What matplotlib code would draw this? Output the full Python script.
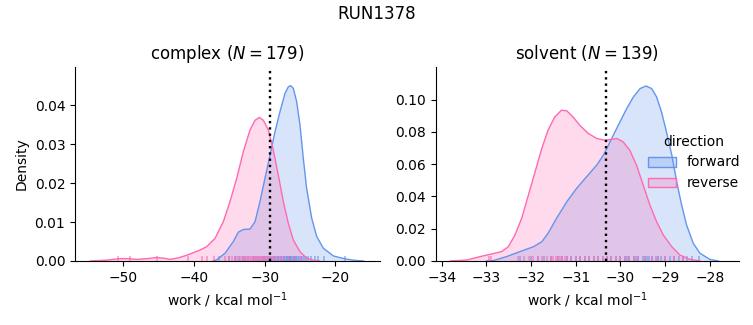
import numpy as np
import matplotlib
matplotlib.use("Agg")
import matplotlib.pyplot as plt
from matplotlib.patches import Patch
from matplotlib.colors import to_rgba

run_name = "RUN1378"
phases = ["complex", "solvent"]
n_samples = [179, 139]
directions = ["forward", "reverse"]
colors = {"forward": "#6495ED", "reverse": "#FF69B4"}

# density curves (work in kcal/mol, density)
complex_fwd_x = [-37.3, -36.78, -35.61, -34.43, -33.73, -33.02, -32.07, -31.36, -30.66,
                 -29.95, -29.24, -28.54, -27.83, -27.12, -26.65, -26.32, -25.94, -25.47,
                 -25.0, -24.53, -24.06, -23.34, -22.63, -21.70, -20.28, -19.0, -17.5,
                 -16.0]
complex_fwd_y = [0.0, 0.0003, 0.0020, 0.0050, 0.0074, 0.0081, 0.0082, 0.0101, 0.0153,
                 0.0213, 0.0272, 0.0332, 0.0384, 0.0431, 0.0448, 0.0451, 0.0444, 0.0410,
                 0.0350, 0.0264, 0.0187, 0.0110, 0.0063, 0.0033, 0.0013, 0.0007, 0.0002,
                 0.0]
complex_rev_x = [-54.7, -52.5, -50.47, -49.2, -48.1, -46.6, -45.27, -44.2, -43.4, -42.2,
                 -41.0, -39.15, -38.2, -37.03, -35.85, -34.90, -33.95, -33.02, -32.07,
                 -31.36, -30.75, -30.19, -29.48, -28.77, -28.07, -27.36, -26.65, -25.94,
                 -25.0, -24.06, -22.87, -22.2]
complex_rev_y = [0.0, 0.0002, 0.0006, 0.0006, 0.0004, 0.0006, 0.0009, 0.0007, 0.0004,
                 0.0008, 0.0015, 0.0028, 0.0037, 0.0058, 0.0101, 0.0153, 0.0213, 0.0281,
                 0.0337, 0.0362, 0.0369, 0.0362, 0.0337, 0.0285, 0.0221, 0.0153, 0.0097,
                 0.0054, 0.0024, 0.0007, 0.0001, 0.0]
solvent_fwd_x = [-33.0, -32.85, -32.55, -32.25, -31.95, -31.76, -31.62, -31.43, -31.20,
                 -30.98, -30.76, -30.53, -30.38, -30.27, -30.16, -30.01, -29.86, -29.71,
                 -29.56, -29.43, -29.30, -29.19, -29.08, -28.97, -28.85, -28.74, -28.63,
                 -28.52, -28.37, -28.22, -28.0, -27.81]
solvent_fwd_y = [0.0, 0.0002, 0.0027, 0.0058, 0.0088, 0.0119, 0.0171, 0.0264, 0.0367,
                 0.0450, 0.0521, 0.0594, 0.0656, 0.0717, 0.0779, 0.0862, 0.0944, 0.1016,
                 0.1068, 0.1084, 0.1068, 0.1016, 0.0923, 0.0800, 0.0656, 0.0490, 0.0346,
                 0.0223, 0.0109, 0.0048, 0.0010, 0.0]
solvent_rev_x = [-33.81, -33.44, -33.14, -32.92, -32.66, -32.51, -32.36, -32.21, -32.06,
                 -31.91, -31.76, -31.62, -31.47, -31.32, -31.20, -31.06, -30.91, -30.72,
                 -30.53, -30.35, -30.20, -30.08, -29.94, -29.79, -29.64, -29.49, -29.34,
                 -29.19, -29.04, -28.85, -28.67, -28.45, -28.22]
solvent_rev_y = [0.0, 0.0006, 0.0027, 0.0041, 0.0058, 0.0088, 0.0161, 0.0264, 0.0408,
                 0.0552, 0.0697, 0.0810, 0.0892, 0.0934, 0.0930, 0.0892, 0.0841, 0.0790,
                 0.0759, 0.0748, 0.0753, 0.0759, 0.0738, 0.0686, 0.0594, 0.0470, 0.0346,
                 0.0243, 0.0161, 0.0088, 0.0037, 0.0010, 0.0]

# individual work values shown as rug ticks
complex_fwd_rug = [-36.4, -35.1, -34.2, -33.6, -33.1, -32.8, -32.3, -31.7, -31.2, -30.8,
                   -30.4, -30.1, -29.8, -29.5, -29.2, -29.0, -28.7, -28.5, -28.3, -28.1,
                   -27.9, -27.7, -27.5, -27.3, -27.2, -27.0, -26.9, -26.8, -26.6, -26.5,
                   -26.4, -26.3, -26.2, -26.0, -25.9, -25.8, -25.6, -25.5, -25.3, -25.1,
                   -24.9, -24.7, -24.4, -24.1, -23.8, -23.4, -22.9, -22.4, -21.6, -18.6]
complex_rev_rug = [-50.7, -49.0, -45.3, -40.8, -38.9, -38.2, -37.1, -35.6, -35.0, -34.6,
                   -34.2, -33.9, -33.5, -33.2, -32.9, -32.6, -32.4, -32.1, -31.9, -31.7,
                   -31.5, -31.3, -31.1, -30.9, -30.7, -30.5, -30.3, -30.1, -29.9, -29.7,
                   -29.4, -29.1, -28.8, -28.5, -28.1, -27.7, -27.2, -26.6, -25.8, -24.9]
solvent_fwd_rug = [-32.25, -32.0, -31.85, -31.7, -31.55, -31.4, -31.3, -31.2, -31.1, -31.0,
                   -30.9, -30.8, -30.7, -30.6, -30.5, -30.4, -30.3, -30.2, -30.1, -30.0,
                   -29.9, -29.85, -29.8, -29.7, -29.65, -29.6, -29.5, -29.45, -29.4,
                   -29.35, -29.3, -29.2, -29.15, -29.1, -29.0, -28.9, -28.8, -28.7,
                   -28.6, -28.5, -28.4, -28.25]
solvent_rev_rug = [-32.95, -32.9, -32.3, -32.15, -32.05, -31.95, -31.85, -31.75, -31.65,
                   -31.55, -31.5, -31.45, -31.4, -31.35, -31.3, -31.25, -31.2, -31.1,
                   -31.0, -30.9, -30.8, -30.7, -30.6, -30.5, -30.4, -30.3, -30.2, -30.1,
                   -30.0, -29.9, -29.8, -29.7, -29.6, -29.45, -29.3, -29.15, -29.0,
                   -28.8, -28.6]

# free energy estimate per phase (dotted line)
delta_f = [-29.25, -30.33]

curves = {
    "complex": {"forward": (complex_fwd_x, complex_fwd_y, complex_fwd_rug),
                "reverse": (complex_rev_x, complex_rev_y, complex_rev_rug)},
    "solvent": {"forward": (solvent_fwd_x, solvent_fwd_y, solvent_fwd_rug),
                "reverse": (solvent_rev_x, solvent_rev_y, solvent_rev_rug)},
}
xlims = [(-56.84, -13.68), (-34.134, -27.34)]
ylims = [(0, 0.0499), (0, 0.1202)]
yticks = [[0, 0.01, 0.02, 0.03, 0.04], [0, 0.02, 0.04, 0.06, 0.08, 0.10]]

fig = plt.figure(figsize=(7.53, 3.25), dpi=100)
axes = [fig.add_axes([0.0996, 0.197, 0.405, 0.597]),
        fig.add_axes([0.5786, 0.197, 0.4032, 0.597])]

for i, (ax, phase) in enumerate(zip(axes, phases)):
    for d in directions:
        x, y, rug = curves[phase][d]
        c = colors[d]
        ax.fill_between(x, y, 0, facecolor=c, alpha=0.25, linewidth=0)
        ax.plot(x, y, color=c, lw=1)
        trans = ax.get_xaxis_transform()
        for r in rug:
            ax.plot([r, r], [0, 0.025], color=c, lw=1.1, alpha=0.7,
                    transform=trans, solid_capstyle="butt")
    ax.axvline(delta_f[i], color="black", ls=":", lw=1.7)
    ax.set_xlim(*xlims[i])
    ax.set_ylim(*ylims[i])
    ax.set_yticks(yticks[i])
    ax.set_title(f"{phase} ($N = {n_samples[i]}$)", fontsize=12)
    ax.set_xlabel("work / kcal mol$^{-1}$")
    ax.spines["top"].set_visible(False)
    ax.spines["right"].set_visible(False)

axes[0].set_ylabel("Density")
axes[1].set_xticks([-34, -33, -32, -31, -30, -29, -28])

handles = [Patch(facecolor=to_rgba(colors[d], 0.25), edgecolor=colors[d], lw=1)
           for d in directions]
fig.legend(handles, directions, title="direction", loc="center right",
           bbox_to_anchor=(1.0, 0.5), frameon=False)

fig.suptitle(run_name, fontsize=12, y=0.985)
fig.savefig("out.png", dpi=100)
